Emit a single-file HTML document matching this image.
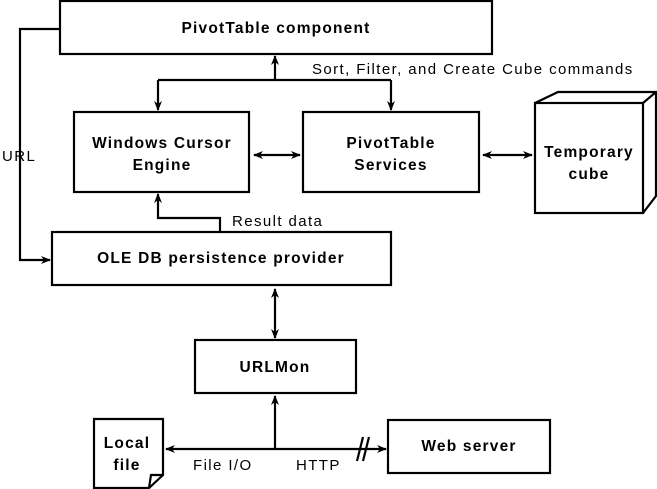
<!DOCTYPE html>
<html><head><meta charset="utf-8"><style>
html,body{margin:0;padding:0;background:#fff;}
svg{display:block;}
text{font-family:"Liberation Sans",Arial,sans-serif;fill:#000;}
.b{font-weight:bold;font-size:15.5px;letter-spacing:1.2px;}
.n{font-size:15px;letter-spacing:1.4px;}
</style></head><body>
<svg width="657" height="489" viewBox="0 0 657 489" xmlns="http://www.w3.org/2000/svg">
<defs>
<marker id="a" markerWidth="10" markerHeight="8" refX="9" refY="4" orient="auto-start-reverse" markerUnits="userSpaceOnUse">
<path d="M0,0 L10,4 L0,8 L3,4 z" fill="#000"/>
</marker>
</defs>
<g fill="none" stroke="#000" stroke-width="2.2">
<rect x="60" y="1" width="432" height="53"/>
<rect x="74" y="112" width="175" height="80"/>
<rect x="303" y="112" width="176" height="80"/>
<rect x="535" y="103" width="108" height="110"/>
<path d="M535,103 L558,92 L656,92 L643,103"/>
<path d="M656,92 L656,196 L643,213"/>
<rect x="52" y="232" width="339" height="53"/>
<rect x="195" y="340" width="161" height="53"/>
<path d="M94,419 L163,419 L163,475 L149,488 L94,488 Z"/>
<path d="M163,475 L151,475 L149,488"/>
<rect x="388" y="420" width="162" height="53"/>

<path d="M60,29 L20,29 L20,260 L50,260" marker-end="url(#a)"/>
<path d="M275,80 L275,56" marker-end="url(#a)"/>
<path d="M158,80 L391,80"/>
<path d="M158,80 L158,110" marker-end="url(#a)"/>
<path d="M391,80 L391,110" marker-end="url(#a)"/>
<path d="M254,155 L300,155" marker-start="url(#a)" marker-end="url(#a)"/>
<path d="M483,155 L532,155" marker-start="url(#a)" marker-end="url(#a)"/>
<path d="M220,232 L220,218 L158,218 L158,194" marker-end="url(#a)"/>
<path d="M275,289 L275,338" marker-start="url(#a)" marker-end="url(#a)"/>
<path d="M275,449 L275,396" marker-end="url(#a)"/>
<path d="M166,449 L386,449" marker-start="url(#a)" marker-end="url(#a)"/>
<path d="M357,461 L363,437 M363,461 L369,437"/>
</g>
<text class="b" x="276" y="33" text-anchor="middle">PivotTable component</text>
<text class="n" x="312" y="74">Sort, Filter, and Create Cube commands</text>
<text class="b" x="162" y="148" text-anchor="middle">Windows Cursor</text>
<text class="b" x="162" y="170" text-anchor="middle">Engine</text>
<text class="b" x="391" y="148" text-anchor="middle">PivotTable</text>
<text class="b" x="391" y="170" text-anchor="middle">Services</text>
<text class="b" x="589" y="157" text-anchor="middle">Temporary</text>
<text class="b" x="589" y="179" text-anchor="middle">cube</text>
<text class="n" x="2" y="161">URL</text>
<text class="n" x="232" y="226">Result data</text>
<text class="b" x="221" y="263" text-anchor="middle">OLE DB persistence provider</text>
<text class="b" x="275" y="372" text-anchor="middle">URLMon</text>
<text class="b" x="127" y="448" text-anchor="middle">Local</text>
<text class="b" x="127" y="470" text-anchor="middle">file</text>
<text class="n" x="193" y="470">File I/O</text>
<text class="n" x="296" y="470">HTTP</text>
<text class="b" x="469" y="451" text-anchor="middle">Web server</text>
</svg>
</body></html>
